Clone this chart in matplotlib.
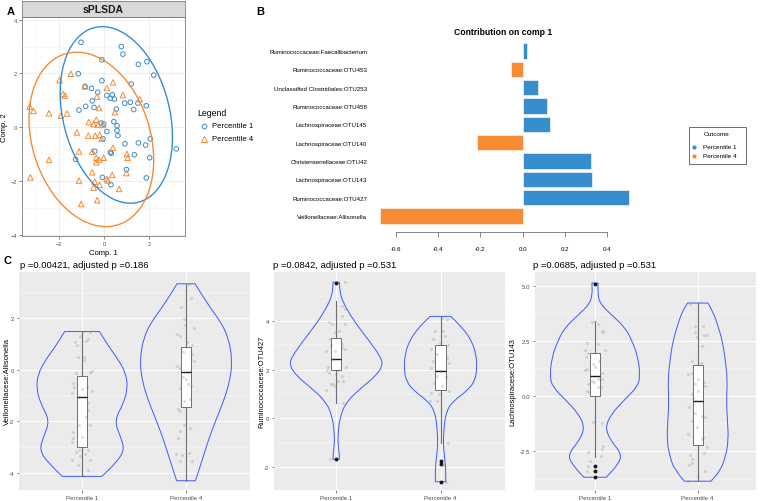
import matplotlib
matplotlib.use("Agg")
import matplotlib.pyplot as plt
from matplotlib.patches import Ellipse, Rectangle, PathPatch
from matplotlib.path import Path
from matplotlib.lines import Line2D

plt.rcParams['font.family'] = ['Liberation Sans', 'DejaVu Sans']

W, H = 760, 502
BLUE = '#388ECC'
ORANGE = '#F68B33'

# ---------------- panel A : sPLSDA sample plot
a_p1_x = [-1.02, 0.77, 0.84, -0.09, 1.53, 1.91, 2.21, -1.14, -0.09, -0.84, -0.55, -0.28, 1.21, -0.52,
          -0.81, -1.11, -0.44, 0.13, 0.28, 0.37, 0.47, 0.55, 0.92, 1.17, 1.32, 1.51, 1.88, -0.12, -0.01,
          0.44, 0.58, 0.58, 0.13, 0.62, -0.04, 0.93, 1.53, 1.85, 2.06, 3.21, -0.41, 0.28, 0.33, 1.35,
          2.03, -1.26, 1.0, -0.07, 0.31, 1.88]
a_p1_y = [3.16, 3.0, 2.72, 2.51, 2.34, 2.44, 1.94, 1.99, 1.73, 1.52, 1.45, 1.3, 1.61, 0.98,
          0.78, 0.64, 0.74, 1.18, 1.08, 1.21, 1.05, 0.68, 0.9, 0.93, 0.66, 0.9, 0.8, 0.16, 0.12,
          0.21, 0.06, -0.12, -0.16, -0.31, -0.43, -0.61, -0.58, -0.66, -0.43, -0.8, -0.89, -0.93, -0.97, -1.02,
          -1.13, -1.19, -1.57, -1.86, -2.13, -1.88]
a_p4_x = [-3.3, -3.13, -2.44, -3.27, -2.44, -1.97, -1.47, -1.82, -1.73, -1.91, -1.64, -0.84, -1.2,
          -0.7, -1.11, -1.11, -1.01, -0.3, -0.22, -0.31, -0.34, -0.46, -0.27, -0.04, -0.39, -0.19,
          -0.1, -0.52, -0.34, -0.22, -0.34, -0.01, -0.52, -0.41, -0.46, -0.19, 0.13, 0.18, 0.37, 0.67,
          1.0, 0.4, 0.13, 0.84, 1.59, 0.49, 0.4, 1.02, 1.05, -0.67]
a_p4_y = [0.77, 0.61, 0.52, -1.86, -1.21, 1.75, 1.99, 1.24, 1.18, 0.43, 0.51, 1.52, -0.19,
          -0.31, -0.9, -1.98, -2.85, -2.71, 0.72, 1.14, 0.28, 0.12, 0.09, 0.09, -0.31, -0.28,
          -0.43, -0.9, -1.13, -1.2, -1.3, -1.13, -1.67, -2.02, -2.24, -2.14, -1.92, -1.98, -1.77, -2.29,
          -1.7, 1.67, 1.46, 1.2, 1.05, 0.56, -0.76, -0.99, -1.13, 0.19]
# confidence ellipses: centre x, centre y, full width, full height, angle (deg)
a_ell_p1 = [0.55, 0.46, 6.8, 4.66, 111]
a_ell_p4 = [-0.56, -0.45, 6.82, 5.12, 118]
a_groups = ['Percentile 1', 'Percentile 4']

# ---------------- panel B : loadings on comp 1 (bottom to top)
b_labels = ['Veillonellaceae:Allisonella', 'Ruminococcaceae:OTU427', 'Lachnospiraceae:OTU143',
            'Christensenellaceae:OTU42', 'Lachnospiraceae:OTU140', 'Lachnospiraceae:OTU145',
            'Ruminococcaceae:OTU458', 'Unclassified Clostridiales:OTU253',
            'Ruminococcaceae:OTU453', 'Ruminococcaceae:Faecalibacterium']
b_values = [-0.675, 0.502, 0.325, 0.321, -0.217, 0.13, 0.112, 0.072, -0.057, 0.019]
b_outcome = ['Percentile 4', 'Percentile 1', 'Percentile 1', 'Percentile 1', 'Percentile 4',
             'Percentile 1', 'Percentile 1', 'Percentile 1', 'Percentile 4', 'Percentile 1']
b_ticks = [-0.6, -0.4, -0.2, 0.0, 0.2, 0.4]

# ---------------- panel C : violin plots
c_titles = ['p =0.00421, adjusted p =0.186', 'p =0.0842, adjusted p =0.531', 'p =0.0685, adjusted p =0.531']
c_ylabels = ['Veillonellacese:Allisonella', 'Ruminococcacese:OTU427', 'Lachnospiracese:OTU143']
c_cats = ['Percentile 1', 'Percentile 4']
c_yticks = [[-4, -2, 0, 2], [-2, 0, 2, 4], [-2.5, 0.0, 2.5, 5.0]]
c_yticklabels = [['-4', '-2', '0', '2'], ['-2', '0', '2', '4'], ['-2.5', '0.0', '2.5', '5.0']]
c_yminor = [[-3, -1, 1, 3], [-1, 1, 3, 5], [-3.75, -1.25, 1.25, 3.75]]

# violin outlines: y levels (bottom to top) and half widths
v1a_y = [-4.15, -3.65, -3.13, -2.6, -1.98, -1.3, -0.68, -0.13, 0.39, 0.91, 1.49]
v1a_w = [0.19, 0.32, 0.41, 0.37, 0.31, 0.40, 0.44, 0.42, 0.35, 0.256, 0.167]
v1b_y = [-4.32, -3.58, -2.8, -2.02, -1.24, -0.46, 0.33, 1.24, 1.89, 2.54, 3.35]
v1b_w = [0.09, 0.15, 0.21, 0.28, 0.36, 0.42, 0.445, 0.41, 0.33, 0.21, 0.087]
v2a_y = [-1.68, -1.43, -1.02, -0.47, 0.08, 0.63, 1.18, 1.73, 2.2, 2.55, 3.1, 3.65, 4.2, 4.75, 5.16, 5.58]
v2a_w = [0.03, 0.03, 0.016, 0.02, 0.04, 0.09, 0.22, 0.38, 0.45, 0.42, 0.33, 0.23, 0.14, 0.067, 0.035, 0.03]
v2b_y = [-2.6, -2.05, -1.63, -1.09, -0.40, 0.29, 0.70, 1.11, 1.52, 2.07, 2.62, 3.17, 3.72, 4.18]
v2b_w = [0.05, 0.05, 0.04, 0.026, 0.032, 0.055, 0.12, 0.25, 0.33, 0.35, 0.34, 0.30, 0.21, 0.1]
v3a_y = [-3.68, -3.08, -2.62, -2.0, -1.41, -0.8, -0.2, 0.41, 0.86, 1.77, 2.53, 3.14, 3.74, 4.2, 4.65, 5.14]
v3a_w = [0.11, 0.23, 0.26, 0.15, 0.10, 0.16, 0.28, 0.41, 0.44, 0.42, 0.36, 0.29, 0.15, 0.05, 0.026, 0.03]
v3b_y = [-3.86, -3.38, -2.77, -2.0, -1.1, -0.2, 0.71, 1.62, 2.53, 3.14, 3.74, 4.23]
v3b_w = [0.13, 0.22, 0.27, 0.30, 0.29, 0.28, 0.29, 0.27, 0.24, 0.20, 0.16, 0.1]

# boxplot stats: whislo, q1, med, q3, whishi, outliers
s1a = [-4.15, -3.0, -1.04, -0.23, 1.49, []]
s1b = [-4.32, -1.46, -0.09, 0.87, 3.35, []]
s2a = [0.63, 2.0, 2.42, 3.28, 4.82, [-1.68, 5.55]]
s2b = [-1.02, 1.15, 1.96, 3.0, 4.18, [-1.77, -1.88, -2.6]]
s3a = [-2.77, 0.0, 0.91, 1.98, 3.41, [-3.15, -3.38, -3.68, 5.1]]
s3b = [-3.86, -2.21, -0.21, 1.42, 4.23, []]

# jittered raw points: offset from category, value
j1a_dx = [-0.016, 0.08, 0.04, -0.064, -0.048, 0.058, -0.042, 0.016, 0.022, -0.054, 0.08, 0.093, -0.087,
          -0.074, -0.093, -0.003, 0.048, 0.093, -0.03, 0.055, 0.061, 0.038, -0.03, 0.08, -0.083, -0.087,
          -0.003, -0.061, -0.03, 0.055, 0.032, -0.016, -0.093, -0.042, 0.08, 0.055, 0.01, -0.1]
j1a_y = [1.30, 1.49, 1.13, 1.07, 0.98, 1.2, 0.5, 0.5, 0.37, -0.13, -0.07, -0.05, -0.52,
         -0.65, -0.89, -0.74, -0.65, -0.82, -1.07, -1.3, -1.56, -1.83, -2.15, -2.15, -2.44, -2.67,
         -2.6, -3.19, -3.13, -3.13, -3.26, -3.35, -3.52, -3.69, -3.52, -3.89, -4.15, -2.8]
j1b_dx = [0.026, 0.048, -0.048, -0.022, -0.006, 0.08, -0.087, -0.061, 0.01, 0.054, -0.029, 0.058, 0.074,
          -0.087, -0.054, -0.029, -0.003, 0.016, 0.048, -0.054, -0.022, 0.035, -0.08, -0.061, 0.042,
          -0.054, -0.077, -0.093, -0.035, -0.054, 0.058, 0.026, -0.022]
j1b_y = [3.35, 2.8, 2.45, 1.97, 1.76, 1.64, 1.38, 1.32, 1.09, 0.96, 0.70, 0.6, 0.36,
         0.13, 0.07, -0.29, -0.34, -0.57, -0.64, -0.70, -1.22, -1.15, -1.51, -1.61, -2.27,
         -2.4, -2.64, -3.27, -3.31, -3.54, -3.54, -3.24, -2.14]
j2a_dx = [0.08, 0.06, 0.087, 0.06, -0.067, -0.04, 0.087, 0.03, -0.01, -0.058, 0.06, 0.054, -0.048,
          0.087, -0.1, -0.016, -0.035, -0.08, -0.09, 0.022, 0.093, -0.067, -0.003, 0.054, 0.07,
          -0.026, -0.054, -0.016, -0.093, 0.022, 0.07, -0.058]
j2a_y = [5.58, 4.59, 4.5, 4.2, 3.93, 3.86, 3.86, 3.59, 3.52, 3.24, 3.04, 2.9, 2.99,
         2.83, 2.76, 2.76, 2.45, 2.12, 2.0, 2.0, 2.12, 1.87, 1.8, 1.73, 1.52,
         1.39, 1.39, 1.32, 1.18, 1.52, 0.63, -1.68]
j2b_dx = [0.01, 0.064, -0.054, 0.026, 0.042, -0.07, -0.006, 0.074, -0.096, -0.038, 0.058, 0.08, -0.07,
          -0.093, 0.003, -0.029, 0.048, -0.061, 0.016, 0.08, -0.087, -0.016, -0.038, -0.1, 0.067,
          0.026, 0.054]
j2b_y = [4.13, 4.07, 3.59, 3.56, 3.38, 3.24, 3.1, 3.0, 2.83, 2.62, 2.49, 2.28, 2.35,
         2.07, 1.94, 1.73, 1.69, 1.46, 1.32, 1.11, 1.04, 0.98, 0.70, 0.70, -1.02,
         -1.91, -2.6]
j3a_dx = [-0.032, 0.026, 0.065, 0.081, -0.081, 0.026, -0.097, 0.097, -0.065, -0.091, 0.039, -0.016,
          -0.081, 0.0, -0.097, 0.065, 0.026, -0.026, 0.071, -0.006, -0.065, 0.026, -0.081, -0.055,
          0.058, -0.023, 0.071, 0.081, 0.065, -0.065, 0.058, -0.049, -0.065, -0.081]
j3a_y = [3.36, 3.29, 2.91, 2.94, 2.41, 2.38, 2.12, 2.08, 1.95, 1.77, 1.62, 1.47,
         1.24, 1.32, 1.17, 1.05, 0.79, 0.71, 0.79, 0.64, 0.56, 0.41, 0.23, 0.18,
         0.44, -1.15, -1.23, -2.24, -2.39, -2.52, -2.73, -2.95, -3.18, -3.38]
j3b_dx = [-0.075, -0.026, 0.055, -0.026, -0.01, 0.065, 0.088, 0.039, -0.058, 0.032, -0.097, -0.058,
          0.0, 0.065, -0.026, 0.071, 0.006, -0.058, -0.042, -0.084, -0.026, 0.045, 0.071, -0.058,
          -0.01, -0.097, 0.055, 0.039, 0.088, 0.065, -0.075, -0.058, -0.084, -0.058, 0.0, 0.071, -0.097]
j3b_y = [4.2, 3.21, 3.17, 2.91, 2.71, 2.76, 2.8, 2.26, 1.62, 1.5, 1.02, 1.05,
         0.79, 0.64, 0.56, 0.48, 0.23, 0.11, -0.08, -0.5, -0.77, -0.92, -0.95, -1.11,
         -1.41, -1.71, -1.86, -1.94, -2.32, -2.56, -2.65, -2.85, -3.11, -3.05, -3.61, -3.41, -3.86]


def rect(x0, y0, x1, y1):
    # pixel box -> figure fraction
    return [x0 / W, 1 - y1 / H, (x1 - x0) / W, (y1 - y0) / H]


def ftext(x, y, s, **kw):
    fig.text(x / W, 1 - y / H, s, **kw)


def side(pts):
    # smooth curve through the outline points (quadratic bezier via midpoints)
    v, c = [], []
    for i in range(1, len(pts) - 1):
        m = ((pts[i][0] + pts[i + 1][0]) / 2, (pts[i][1] + pts[i + 1][1]) / 2)
        v += [pts[i], m]
        c += [Path.CURVE3, Path.CURVE3]
    v.append(pts[-1])
    c.append(Path.LINETO)
    return v, c


def violin(ax, pos, ys, ws):
    left = [(pos - w, y) for y, w in zip(ys, ws)]
    right = [(pos + w, y) for y, w in zip(ys, ws)][::-1]
    verts, codes = [left[0]], [Path.MOVETO]
    v, c = side(left)
    verts += v; codes += c
    verts.append(right[0]); codes.append(Path.LINETO)
    v, c = side(right)
    verts += v; codes += c
    verts.append(left[0]); codes.append(Path.CLOSEPOLY)
    ax.add_patch(PathPatch(Path(verts, codes), facecolor='none', edgecolor='#3B5BFF', lw=0.7, zorder=3))


fig = plt.figure(figsize=(W / 100, H / 100), dpi=100)

# ================= A
axA = fig.add_axes(rect(22, 18, 185, 237))
axA.set_xlim(-3.64, 3.6)
axA.set_ylim(-4.04, 4.1)
axA.set_xticks([-2, 0, 2])
axA.set_yticks([-4, -2, 0, 2, 4])
axA.set_xticks([-3, -1, 1, 3], minor=True)
axA.set_yticks([-3, -1, 1, 3], minor=True)
axA.grid(True, which='major', color='#EBEBEB', lw=0.6)
axA.grid(True, which='minor', color='#F4F4F4', lw=0.4)
axA.set_axisbelow(True)
axA.tick_params(which='major', labelsize=4, colors='#4D4D4D', length=2, width=0.5, pad=1.5)
axA.tick_params(which='minor', length=0)
for sp in axA.spines.values():
    sp.set_color('#7F7F7F')
    sp.set_linewidth(0.6)
axA.scatter(a_p1_x, a_p1_y, s=11, facecolors='none', edgecolors=BLUE, linewidths=0.7, zorder=3)
axA.scatter(a_p4_x, a_p4_y, s=16, marker='^', facecolors='none', edgecolors=ORANGE, linewidths=0.7, zorder=3)
for e, col in [(a_ell_p1, BLUE), (a_ell_p4, ORANGE)]:
    axA.add_patch(Ellipse((e[0], e[1]), e[2], e[3], angle=e[4], fill=False, edgecolor=col, lw=1.0, zorder=4))
axA.set_xlabel('Comp. 1', fontsize=5.5, labelpad=2)
axA.set_ylabel('Comp. 2', fontsize=5.5, labelpad=2)

strip = fig.add_axes(rect(22, 2, 185, 18))
strip.set_xticks([]); strip.set_yticks([])
strip.set_facecolor('#D9D9D9')
for sp in strip.spines.values():
    sp.set_color('#7F7F7F')
    sp.set_linewidth(0.6)
strip.text(0.5, 0.5, 'sPLSDA', ha='center', va='center', fontsize=7.5, fontweight='bold', color='#1A1A1A',
           transform=strip.transAxes)

ftext(197, 114, 'Legend', fontsize=6.3, va='center', ha='left')
leg_markers = [('o', 3.4, BLUE), ('^', 4, ORANGE)]
for k, ((mk, ms, col), lab) in enumerate(zip(leg_markers, a_groups)):
    fig.lines.append(Line2D([204 / W], [1 - (127 + 13 * k) / H], transform=fig.transFigure, ls='none',
                            marker=mk, ms=ms, mfc='none', mec=col, mew=0.7))
    ftext(212, 127 + 13 * k, lab, fontsize=5.6, va='center', ha='left')

# ================= B
axB = fig.add_axes(rect(370, 40, 639, 233))
ypos = list(range(len(b_values)))
cols = [BLUE if o == 'Percentile 1' else ORANGE for o in b_outcome]
axB.barh(ypos, b_values, height=0.83, color=cols, edgecolor='white', linewidth=0.4)
axB.set_xlim(-0.722, 0.549)
axB.set_ylim(-0.87, 9.65)
axB.set_yticks(ypos)
axB.set_yticklabels(b_labels, fontsize=4.4)
axB.tick_params(axis='y', length=0, pad=2)
axB.set_xticks(b_ticks)
axB.set_xticklabels(['%.1f' % t for t in b_ticks], fontsize=4.4)
axB.tick_params(axis='x', length=3.6, width=0.5, pad=6.5, color='#555555')
for k in ['top', 'right', 'left']:
    axB.spines[k].set_visible(False)
axB.spines['bottom'].set_bounds(-0.6, 0.4)
axB.spines['bottom'].set_linewidth(0.5)
axB.spines['bottom'].set_color('#555555')
axB.patch.set_alpha(0)
ftext(503, 33, 'Contribution on comp 1', fontsize=6.2, fontweight='bold', ha='center', va='center')

fig.patches.append(Rectangle((689 / W, 1 - 165 / H), 57 / W, 37 / H, transform=fig.transFigure,
                             facecolor='white', edgecolor='#555555', lw=0.6))
ftext(717, 135, 'Outcome', fontsize=4.6, ha='center', va='center')
for k, (lab, col) in enumerate(zip(a_groups, [BLUE, ORANGE])):
    fig.lines.append(Line2D([694 / W], [1 - (147.5 + 9 * k) / H], transform=fig.transFigure, ls='none',
                            marker='o', ms=2, mfc=col, mec=col))
    ftext(703, 147.5 + 9 * k, lab, fontsize=4.6, ha='left', va='center')

# ================= C
c_boxes = [(19, 250), (274, 505), (535, 756)]
c_xlims = [(0.394, 2.615), (0.404, 2.618), (0.416, 2.568)]
c_ylims = [(-4.68, 3.81), (-2.94, 6.0), (-4.26, 5.64)]
c_violins = [[(v1a_y, v1a_w), (v1b_y, v1b_w)], [(v2a_y, v2a_w), (v2b_y, v2b_w)], [(v3a_y, v3a_w), (v3b_y, v3b_w)]]
c_stats = [[s1a, s1b], [s2a, s2b], [s3a, s3b]]
c_jit = [[(j1a_dx, j1a_y), (j1b_dx, j1b_y)], [(j2a_dx, j2a_y), (j2b_dx, j2b_y)], [(j3a_dx, j3a_y), (j3b_dx, j3b_y)]]
c_title_x = [20, 273, 533]
c_ylab_x = [7, 262, 513]

for i in range(3):
    x0, x1 = c_boxes[i]
    ax = fig.add_axes(rect(x0, 273, x1, 491))
    ax.set_facecolor('#EBEBEB')
    ax.set_xlim(*c_xlims[i])
    ax.set_ylim(*c_ylims[i])
    ax.set_xticks([1, 2])
    ax.set_xticklabels(c_cats)
    ax.set_yticks(c_yticks[i])
    ax.set_yticklabels(c_yticklabels[i])
    ax.set_yticks(c_yminor[i], minor=True)
    ax.grid(True, which='major', color='white', lw=0.7)
    ax.grid(True, which='minor', axis='y', color='white', lw=0.35)
    ax.set_axisbelow(True)
    ax.tick_params(which='major', labelsize=4.4, colors='#4D4D4D', length=1.8, width=0.5, pad=1.5)
    ax.tick_params(which='minor', length=0)
    for sp in ax.spines.values():
        sp.set_visible(False)
    for g in range(2):
        pos = g + 1
        ys, ws = c_violins[i][g]
        violin(ax, pos, ys, ws)
        st = c_stats[i][g]
        ax.bxp([dict(whislo=st[0], q1=st[1], med=st[2], q3=st[3], whishi=st[4], fliers=st[5])],
               positions=[pos], widths=0.1, patch_artist=True, showcaps=False, manage_ticks=False,
               boxprops=dict(facecolor='white', edgecolor='#5A5A5A', lw=0.6),
               medianprops=dict(color='#1A1A1A', lw=1.0),
               whiskerprops=dict(color='#6E6E6E', lw=0.8),
               flierprops=dict(marker='o', mfc='#1A1A1A', mec='#1A1A1A', ms=1.8),
               zorder=4)
        dx, jy = c_jit[i][g]
        ax.scatter([pos + d for d in dx], jy, s=5, color='#7F7F7F', alpha=0.25, linewidths=0, zorder=5)
    ftext(c_title_x[i], 266, c_titles[i], fontsize=6.8, ha='left', va='center')
    ftext(c_ylab_x[i], 382, c_ylabels[i], fontsize=5.4, ha='center', va='center', rotation=90)

ftext(11, 12, 'A', fontsize=8, fontweight='bold', ha='center', va='center')
ftext(260, 12, 'B', fontsize=8, fontweight='bold', ha='center', va='center')
ftext(8, 261, 'C', fontsize=8, fontweight='bold', ha='center', va='center')

fig.savefig('out.png', dpi=100)
